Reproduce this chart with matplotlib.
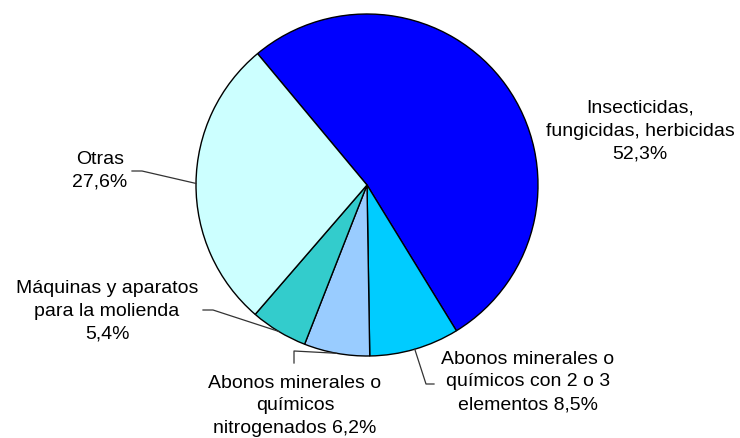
import numpy as np
import matplotlib.pyplot as plt

plt.rcParams['font.family'] = ['Liberation Sans', 'DejaVu Sans']

labels = ["Insecticidas,\nfungicidas, herbicidas\n52,3%",
          "Abonos minerales o\nquímicos con 2 o 3\nelementos 8,5%",
          "Abonos minerales o\nquímicos\nnitrogenados 6,2%",
          "Máquinas y aparatos\npara la molienda\n5,4%",
          "Otras\n27,6%"]
values = [52.3, 8.5, 6.2, 5.4, 27.6]
colors = ['#0000FF', '#00CCFF', '#99CCFF', '#33CCCC', '#CCFFFF']

W, H = 740, 438
fig = plt.figure(figsize=(W / 100, H / 100), dpi=100)
ax = fig.add_axes([0, 0, 1, 1])

cx, cy, r = 367, H - 185, 171
start = 129.8
wedges, _ = ax.pie(values, colors=colors, startangle=start, counterclock=False,
                   center=(cx, cy), radius=r,
                   wedgeprops=dict(edgecolor='black', linewidth=1.0))
ax.set_xlim(0, W)
ax.set_ylim(0, H)
ax.set_aspect('equal')
ax.axis('off')


def edge_point(i, frac=0.5):
    w = wedges[i]
    a = np.deg2rad(w.theta1 + (w.theta2 - w.theta1) * frac)
    return cx + r * np.cos(a), cy + r * np.sin(a)


# text anchors (pixel coords from top) and leader paths
text_pos = [(640, 131), (528, 382), (295, 406), (107, 311), (100, 171)]
for lab, (tx, ty) in zip(labels, text_pos):
    ax.text(tx, H - ty, lab, ha='center', va='center', fontsize=14,
            linespacing=1.45, color='black')

lc = dict(color='#333333', lw=0.9)
# Abonos 2-3
ex, ey = edge_point(1, 0.5)
ax.plot([ex, 426, 434], [ey, H - 384, H - 384], **lc)
# nitrogenados
ex, ey = edge_point(2, 0.5)
ax.plot([294, 294, ex], [H - 363, H - 351, ey], **lc)
# Maquinas
ex, ey = edge_point(3, 0.5)
ax.plot([203, 213, ex], [H - 310, H - 310, ey], **lc)
# Otras
ex, ey = edge_point(4, 0.5)
ax.plot([132, 142, ex], [H - 171, H - 171, ey], **lc)

fig.savefig('out.png', dpi=100)
